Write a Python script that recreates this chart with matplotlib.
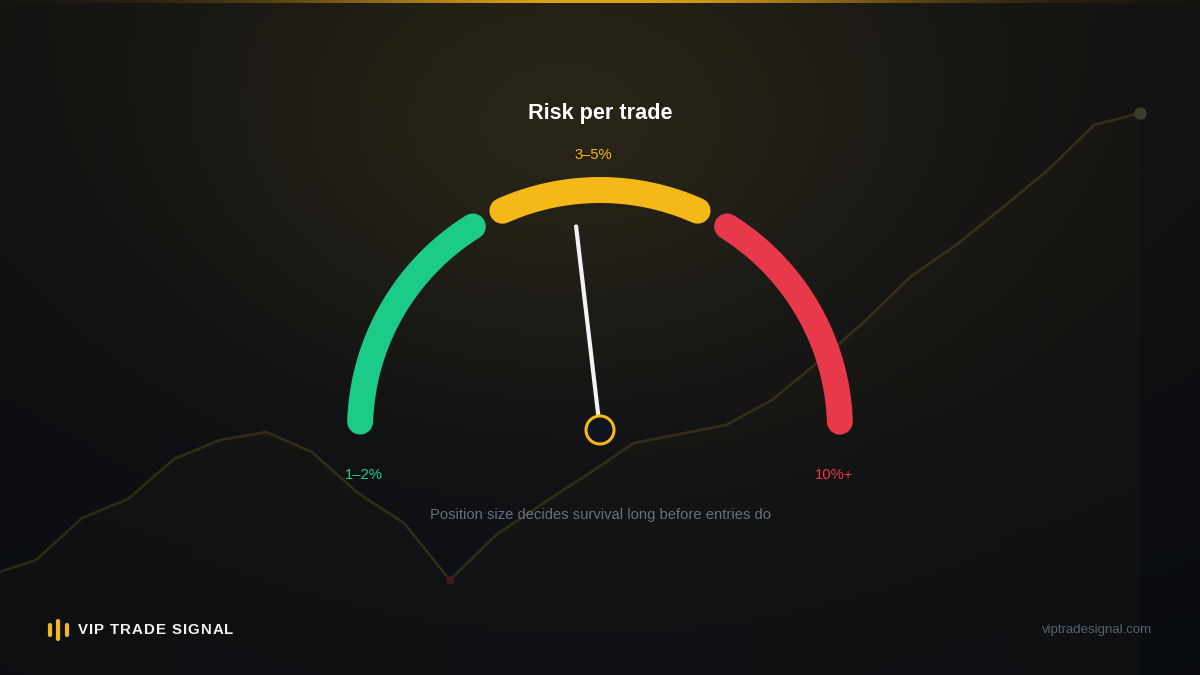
import numpy as np
import matplotlib
matplotlib.use('Agg')
import matplotlib.pyplot as plt
from matplotlib.patches import Circle

plt.rcParams['font.family'] = ['Liberation Sans', 'DejaVu Sans']

# background equity curve (decorative)
equity = [25, 40, 82, 101, 141, 160, 168, 148, 107, 77, 20, 65, 96, 126, 157,
          166, 175, 200, 238, 278, 323, 355, 392, 430, 475, 487]

# gauge
seg_labels = ['1–2%', '3–5%', '10%+']
seg_colors = ['#1ccb88', '#f4b818', '#e8394a']
seg_start = [178, 114, 58]   # degrees
seg_end = [122, 66, 2]
needle_angle = 96.7
gauge_r = 240

title = 'Risk per trade'
subtitle = 'Position size decides survival long before entries do'
brand = 'VIP TRADE SIGNAL'
site = 'viptradesignal.com'
logo_bars = [14, 22, 14]

W, H = 1200, 675
fig = plt.figure(figsize=(12, 6.75), dpi=100)

# ---- background gradient with gold glow
yy, xx = np.mgrid[0:H, 0:W]
top = np.array([0.080, 0.078, 0.072])
bot = np.array([0.040, 0.052, 0.075])
t = (yy / H)[..., None]
img = top * (1 - t) + bot * t
glow = np.exp(-(((xx - 560) / 380.0) ** 2 + ((yy - 140) / 250.0) ** 2))[..., None]
img = img + glow * np.array([0.085, 0.068, 0.020])
edge = np.exp(-(((xx - 600) / 700.0) ** 2))[..., None]
img = img * (0.8 + 0.2 * edge)
bg = fig.add_axes([0, 0, 1, 1])
bg.imshow(np.clip(img, 0, 1), extent=[0, W, H, 0], aspect='auto', interpolation='bilinear')
# top gold line
strip = np.linspace(-1, 1, W)
a = np.exp(-(strip / 0.5) ** 2)
line_img = np.zeros((1, W, 4))
line_img[..., 0] = 0.88
line_img[..., 1] = 0.65
line_img[..., 2] = 0.10
line_img[..., 3] = a
bg.imshow(line_img, extent=[0, W, 3, 0], aspect='auto')
bg.set_xlim(0, W)
bg.set_ylim(H, 0)
bg.axis('off')

# ---- equity curve axes
eq = fig.add_axes([0, 0, 1, 1])
eq.patch.set_alpha(0)
xi = np.arange(len(equity))
eq.fill_between(xi, equity, -75, color='#c9a030', alpha=0.025, lw=0)
eq.plot(xi, equity, color='#c9a030', alpha=0.19, lw=1.9, solid_joinstyle='round')
imin = int(np.argmin(equity))
eq.plot(xi[imin], equity[imin], 'o', color='#4a1a22', ms=5, alpha=0.8)
eq.plot(xi[-1], equity[-1], 'o', color='#3d3b2d', ms=8)
eq.set_xlim(10 / 46.0, 1210 / 46.0)
eq.set_ylim(-75, 600)
eq.axis('off')

# ---- gauge axes (pixel units, centred on pivot)
ga = fig.add_axes([0, 0, 1, 1])
ga.patch.set_alpha(0)
ga.set_xlim(-600, 600)
ga.set_ylim(-245, 430)
for s, e, c in zip(seg_start, seg_end, seg_colors):
    th = np.radians(np.linspace(s, e, 120))
    ga.plot(gauge_r * np.cos(th), gauge_r * np.sin(th), color=c, lw=18.7,
            solid_capstyle='round')

nt = np.radians(needle_angle)
ga.plot([0, 205 * np.cos(nt)], [0, 205 * np.sin(nt)], color='#f2f2f6', lw=3.0,
        solid_capstyle='round')
ga.add_patch(Circle((0, 0), 14, facecolor='#0f1520', edgecolor='#f4b818', lw=2.2, zorder=5))

ga.text(-236, -45, seg_labels[0], color=seg_colors[0], fontsize=10.6, ha='center', va='center')
ga.text(-7, 275, seg_labels[1], color=seg_colors[1], fontsize=10.6, ha='center', va='center')
ga.text(234, -45, seg_labels[2], color=seg_colors[2], fontsize=10.6, ha='center', va='center')
ga.text(0, 317, title, color='white', fontsize=15.6, fontweight='bold', ha='center', va='center')
ga.text(0, -85, subtitle, color='#6a6f7c', fontsize=10.6, ha='center', va='center')
ga.axis('off')

# ---- footer
ft = fig.add_axes([0, 0, 1, 1])
ft.patch.set_alpha(0)
ft.set_xlim(0, W)
ft.set_ylim(H, 0)
for i, h in enumerate(logo_bars):
    x = 50 + i * 8.3
    ft.plot([x, x], [630 - h / 2 + 2, 630 + h / 2 - 2], color='#f4b818', lw=3.0,
            solid_capstyle='round')

# brand text with letter spacing, placed char by char
renderer = fig.canvas.get_renderer()
def text_w(s):
    tmp = ft.text(0, 0, s + '|', fontsize=10.8, fontweight='bold')
    w = tmp.get_window_extent(renderer).width
    tmp.remove()
    return w
bar_w = text_w('')
x = 78.0
for i, ch in enumerate(brand):
    xpos = 78.0 + (text_w(brand[:i]) - bar_w) + i * 1.0
    ft.text(xpos, 630, ch, color='#f2f2f2', fontsize=10.8, fontweight='bold',
            ha='left', va='center')
ft.text(1152, 630, site, color='#5c6170', fontsize=9.5, ha='right', va='center')
ft.axis('off')

fig.savefig('out.png', dpi=100)
